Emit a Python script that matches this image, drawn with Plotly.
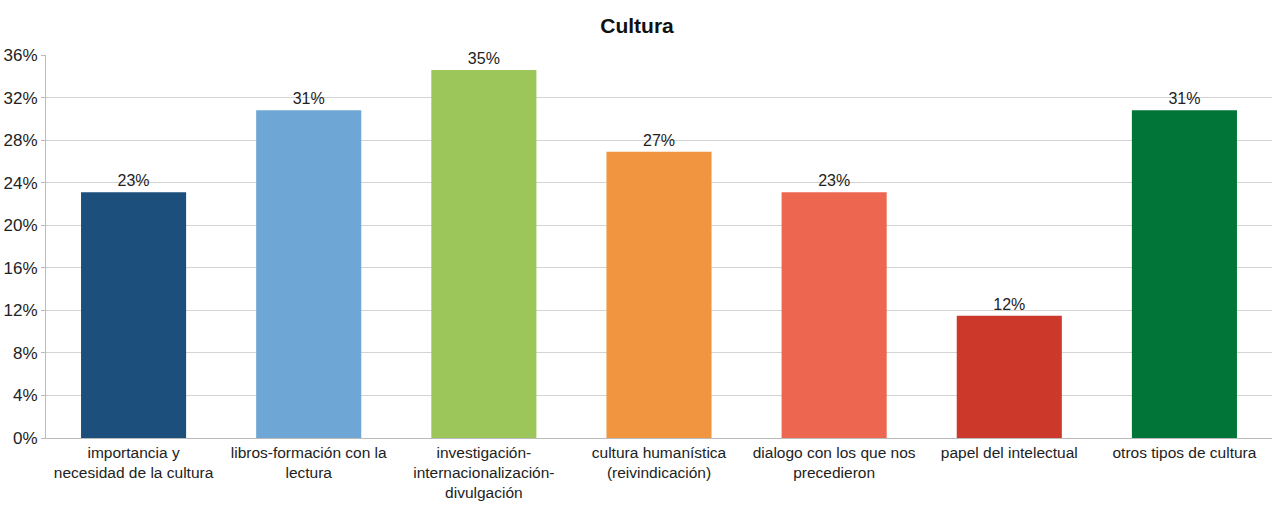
import plotly.graph_objects as go

categories = [
    "importancia y<br>necesidad de la cultura",
    "libros-formación con la<br>lectura",
    "investigación-<br>internacionalización-<br>divulgación",
    "cultura humanística<br>(reivindicación)",
    "dialogo con los que nos<br>precedieron",
    "papel del intelectual",
    "otros tipos de cultura",
]
values = [23.1, 30.8, 34.6, 26.9, 23.1, 11.5, 30.8]
colors = ["#1d4f7d", "#6ea7d5", "#9cc659", "#f29540", "#ec6650", "#cc392b", "#007537"]
tick_vals = [0, 4, 8, 12, 16, 20, 24, 28, 32, 36]
tick_text = [f"{v}%" for v in tick_vals]

FONT = "Liberation Sans, Arial, sans-serif"

fig = go.Figure(go.Bar(
    x=categories, y=values,
    marker=dict(color=colors, line=dict(width=0)),
    width=0.6,
    text=[f"{round(v)}%" for v in values],
    textposition="outside",
    textfont=dict(family=FONT, size=16, color="#222"),
    cliponaxis=False,
))
fig.update_layout(
    width=1274, height=508,
    margin=dict(l=46, r=2, t=55, b=70),
    paper_bgcolor="white", plot_bgcolor="white",
    title=dict(text="<b>Cultura</b>", x=0.5, xanchor="center", y=0.95, yanchor="middle",
               font=dict(family=FONT, size=21, color="#111")),
    font=dict(family=FONT, size=15, color="#222"),
    showlegend=False,
    bargap=0.4,
)
fig.update_xaxes(showline=True, linecolor="#bbb", linewidth=1, ticks="", tickfont=dict(size=15.5),
                 tickangle=0)
fig.update_yaxes(range=[0, 36], tickvals=tick_vals, ticktext=tick_text, showgrid=True,
                 gridcolor="#d4d4d4", gridwidth=1, showline=True, linecolor="#bbb",
                 ticks="outside", ticklen=4, tickcolor="#bbb", tickfont=dict(size=17), zeroline=False)
fig.write_html("out.html")
